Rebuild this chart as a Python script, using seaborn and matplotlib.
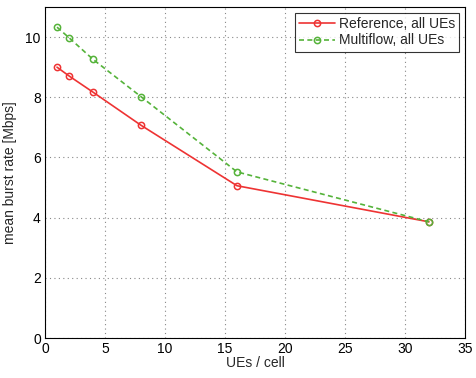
import matplotlib
matplotlib.use("Agg")
import matplotlib.pyplot as plt
import seaborn as sns
import pandas as pd

ues_per_cell = [1, 2, 4, 8, 16, 32]
reference_rate = [9.0, 8.71, 8.17, 7.07, 5.06, 3.86]
multiflow_rate = [10.33, 9.98, 9.26, 8.02, 5.52, 3.86]
series_names = ["Reference, all UEs", "Multiflow, all UEs"]

df = pd.concat([
    pd.DataFrame({"ues": ues_per_cell, "rate": reference_rate, "scheme": series_names[0]}),
    pd.DataFrame({"ues": ues_per_cell, "rate": multiflow_rate, "scheme": series_names[1]}),
])

sns.set_theme(style="white")
plt.rcParams["font.family"] = ["Liberation Sans", "DejaVu Sans"]

fig = plt.figure(figsize=(4.76, 3.78), dpi=100)
ax = fig.add_axes([45 / 476, 1 - 338 / 378, 420 / 476, 331 / 378])

palette = {series_names[0]: "#ee3333", series_names[1]: "#55b33a"}
sns.lineplot(data=df, x="ues", y="rate", hue="scheme", style="scheme",
             palette=palette, dashes={series_names[0]: "", series_names[1]: (3, 2)},
             markers={series_names[0]: "o", series_names[1]: "o"},
             markersize=4.5, markerfacecolor="none", markeredgewidth=1.1,
             linewidth=1.2, ax=ax)

for line in ax.lines:
    line.set_markerfacecolor("none")
    line.set_markeredgecolor(line.get_color())

ax.set_xlim(0, 35)
ax.set_ylim(0, 11)
ax.set_xticks([0, 5, 10, 15, 20, 25, 30, 35])
ax.set_yticks([0, 2, 4, 6, 8, 10])
ax.grid(True, linestyle=(0, (1, 3)), color="#888888", linewidth=0.8)
ax.tick_params(direction="in", length=3, labelsize=10, colors="black", pad=3)
for sp in ax.spines.values():
    sp.set_color("black")
    sp.set_linewidth(0.8)
ax.set_xlabel("UEs / cell", fontsize=10, labelpad=0)
ax.set_ylabel("mean burst rate [Mbps]", fontsize=10, labelpad=6)

leg = ax.legend(loc="upper right", fontsize=10, frameon=True, fancybox=False,
                handlelength=2.6, borderaxespad=0.4, handletextpad=0.3,
                labelspacing=0.2, borderpad=0.3)
leg.get_frame().set_edgecolor("black")
leg.get_frame().set_linewidth(0.8)
for h in leg.get_lines():
    h.set_markerfacecolor("none")

fig.savefig("out.png", dpi=100)
